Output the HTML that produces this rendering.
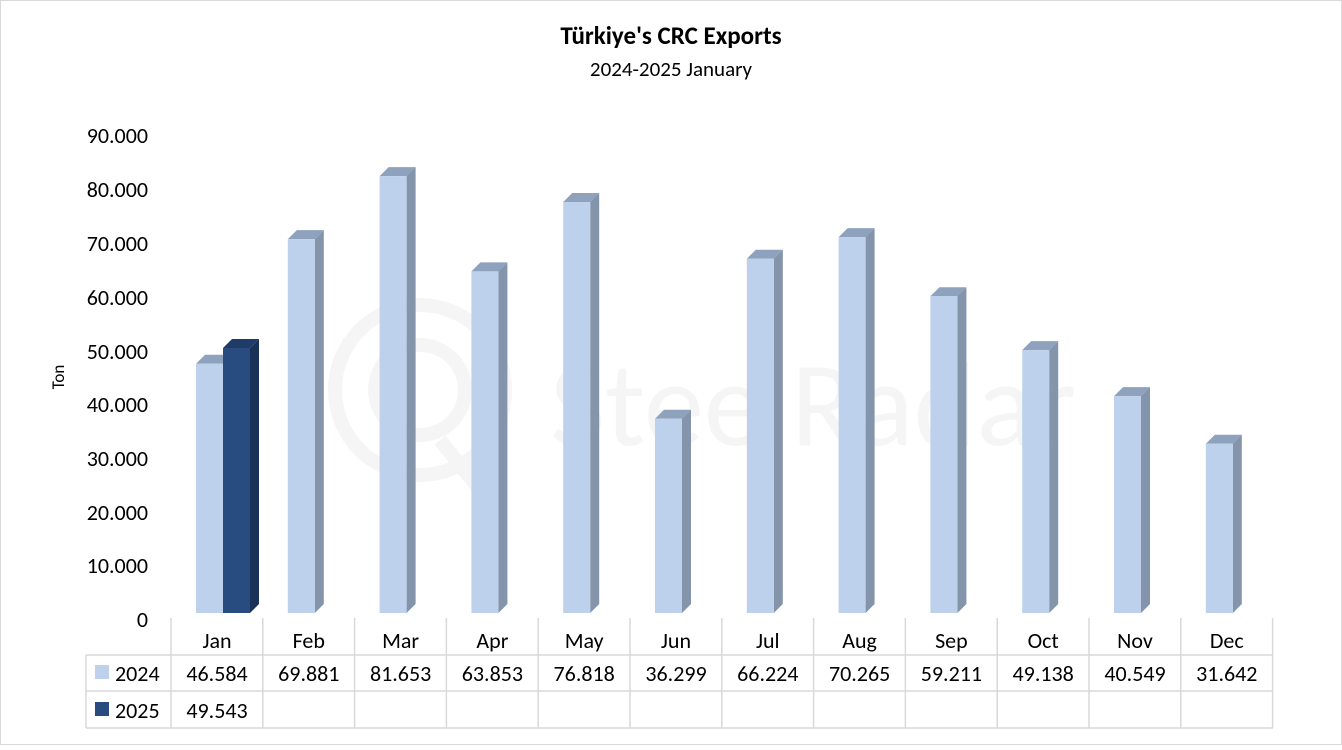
<!DOCTYPE html><html><head><meta charset="utf-8"><style>
body{margin:0;background:#fff;font-family:"Liberation Sans",sans-serif}
</style></head><body>
<svg width="1342" height="745" xmlns="http://www.w3.org/2000/svg" font-family="Carlito, 'Liberation Sans', sans-serif">
<rect x="0.5" y="0.5" width="1341" height="744" fill="#fff" stroke="#d9d9d9"/>
<text x="671" y="44" font-size="25" font-weight="bold" text-anchor="middle" fill="#000">Türkiye's CRC Exports</text>
<text x="671" y="76" font-size="21" text-anchor="middle" fill="#000">2024-2025 January</text>
<g opacity="0.08" fill="none" stroke="#888" stroke-width="14">
<circle cx="420" cy="390" r="85"/><circle cx="420" cy="390" r="45"/><line x1="440" y1="440" x2="480" y2="490"/>
</g>
<text x="550" y="445" font-size="120" fill="#888" opacity="0.08">SteelRadar</text>
<g font-size="22" text-anchor="end" fill="#000">
<text x="148" y="143">90.000</text><text x="148" y="197">80.000</text><text x="148" y="251">70.000</text>
<text x="148" y="305">60.000</text><text x="148" y="359">50.000</text><text x="148" y="412">40.000</text>
<text x="148" y="466">30.000</text><text x="148" y="520">20.000</text><text x="148" y="573">10.000</text>
<text x="148" y="627">0</text>
</g>
<text x="64" y="377" font-size="17" transform="rotate(-90 64 377)" text-anchor="middle">Ton</text>
<g id="bars"></g>
<g stroke="#d9d9d9" stroke-width="1.5" fill="none">
<line x1="171" y1="618" x2="171" y2="728"/>
<line x1="86" y1="655" x2="1273" y2="655"/><line x1="86" y1="691" x2="1273" y2="691"/><line x1="86" y1="728" x2="1273" y2="728"/>
<line x1="86" y1="655" x2="86" y2="728"/>
</g>
<g id="tbl"></g>
<rect x="95" y="665" width="14" height="14" fill="#bdd1ec"/>
<rect x="95" y="702" width="14" height="14" fill="#284b80"/>
<text x="115" y="681" font-size="22">2024</text>
<text x="115" y="718" font-size="22">2025</text>
<text x="217" y="718" font-size="22" text-anchor="middle">49.543</text>
</svg>
<script>
var m=["Jan","Feb","Mar","Apr","May","Jun","Jul","Aug","Sep","Oct","Nov","Dec"];
var v=[46584,69881,81653,63853,76818,36299,66224,70265,59211,49138,40549,31642];
var s="",t="";
function bar(x,val,f,sd,tp){var h=val/10000*53.5,y=613-h,w=27,d=9;
return '<polygon points="'+x+','+y+' '+(x+d)+','+(y-d)+' '+(x+w+d)+','+(y-d)+' '+(x+w)+','+y+'" fill="'+tp+'"/>'+
'<polygon points="'+(x+w)+','+y+' '+(x+w+d)+','+(y-d)+' '+(x+w+d)+','+(613-d)+' '+(x+w)+',613" fill="'+sd+'"/>'+
'<rect x="'+x+'" y="'+y+'" width="'+w+'" height="'+h+'" fill="'+f+'"/>';}
for(var i=0;i<12;i++){var cl=171+i*91.8;
s+=bar(cl+25,v[i],"#bdd1ec","#8394ab","#8ea2bd");
t+='<line x1="'+(cl+91.8)+'" y1="618" x2="'+(cl+91.8)+'" y2="728" stroke="#d9d9d9" stroke-width="1.5"/>';
t+='<text x="'+(cl+46)+'" y="648" font-size="22" text-anchor="middle">'+m[i]+'</text>';
t+='<text x="'+(cl+46)+'" y="681" font-size="22" text-anchor="middle">'+(v[i]/1000).toFixed(3)+'</text>';}
s+=bar(223,49543,"#284b80","#1a3158","#1f3b68");
document.getElementById("bars").innerHTML=s;document.getElementById("tbl").innerHTML=t;
</script>
</body></html>
